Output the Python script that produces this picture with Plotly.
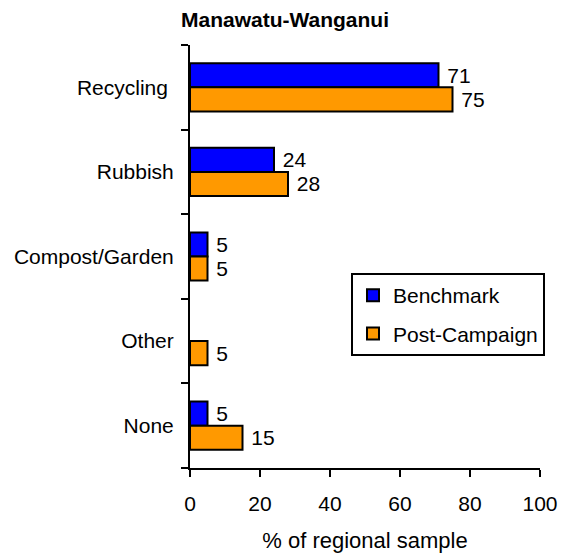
import plotly.graph_objects as go

categories = ["Recycling", "Rubbish", "Compost/Garden", "Other", "None"]
category_labels = ["Recycling\u00a0", "Rubbish", "Compost/Garden", "Other", "None"]
benchmark = [71, 24, 5, None, 5]
post_campaign = [75, 28, 5, 5, 15]
x_ticks = [0, 20, 40, 60, 80, 100]

FONT = "Liberation Sans, Arial, sans-serif"

fig = go.Figure()
fig.add_trace(go.Bar(
    name="Benchmark", legendgroup="bench", y=categories, x=benchmark, orientation="h",
    marker=dict(color="#0000FF", line=dict(color="black", width=2)),
    texttemplate="\u00a0%{x}", textposition="outside", constraintext="none", cliponaxis=False,
    textfont=dict(size=21, color="black", family=FONT),
))
fig.add_trace(go.Bar(
    name="Post-Campaign", legendgroup="post", y=categories, x=post_campaign, orientation="h",
    marker=dict(color="#FF9900", line=dict(color="black", width=2)),
    texttemplate="\u00a0%{x}", textposition="outside", constraintext="none", cliponaxis=False,
    textfont=dict(size=21, color="black", family=FONT),
))

fig.update_layout(
    width=561, height=556,
    margin=dict(l=190, r=21, t=45, b=88, autoexpand=False),
    barmode="group", bargap=0.43, bargroupgap=0,
    plot_bgcolor="white", paper_bgcolor="white",
    font=dict(family=FONT, size=21, color="black"),
    title=dict(text="<b>Manawatu-Wanganui</b>", x=0.508, xanchor="center",
               xref="container", y=0.964, yanchor="middle", yref="container",
               font=dict(size=21, color="black", family=FONT)),
    showlegend=True,
    legend=dict(x=0.46, y=0.461, xanchor="left", yanchor="top",
                bordercolor="black", borderwidth=2, bgcolor="white",
                font=dict(size=21, family=FONT), itemwidth=30,
                traceorder="grouped", tracegroupgap=8),
    xaxis=dict(range=[0, 100], tickvals=x_ticks, showgrid=False, zeroline=False,
               showline=True, linecolor="black", linewidth=2,
               ticks="outside", ticklen=7, tickwidth=2, tickcolor="black",
               ticklabelstandoff=9, automargin=False,
               title=dict(text="% of regional sample", standoff=18,
                          font=dict(size=22))),
    yaxis=dict(autorange="reversed", type="category", showgrid=False, zeroline=False,
               showline=True, linecolor="black", linewidth=2,
               tickvals=categories, ticktext=category_labels,
               ticks="outside", ticklen=7, tickwidth=2, tickcolor="black",
               tickson="boundaries", ticklabelstandoff=10, automargin=False),
)

fig.write_html("out.html", post_script="document.body.style.margin='0';",
               config={"displayModeBar": False})
